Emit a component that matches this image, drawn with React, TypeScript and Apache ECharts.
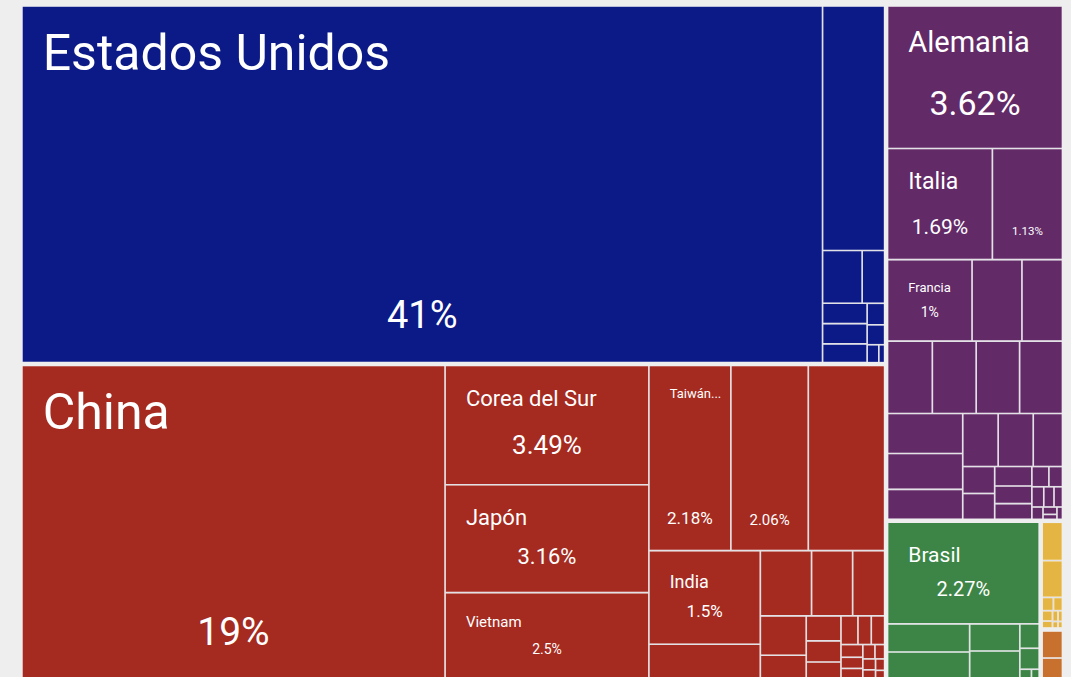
import React, { useEffect, useRef } from "react";
import * as echarts from "echarts";

// ---------- DATA ----------
const continentNames = ["América del Norte", "Asia", "Europa", "América del Sur", "África", "Oceanía"];

const northAmericaNames = ["Estados Unidos", "Canadá", "Guatemala", "Costa Rica", "Puerto Rico", "El Salvador", "República Dominicana", "Nicaragua", "Honduras", "Panamá", "Cuba"];
const northAmericaValues = [41, 2.18, 0.3, 0.17, 0.13, 0.13, 0.12, 0.054, 0.05, 0.03, 0.015];

const asiaNames = ["China", "Corea del Sur", "Japón", "Vietnam", "Taiwán", "Malasia", "Tailandia", "India", "Indonesia", "Singapur", "Filipinas", "Israel", "Hong Kong", "Arabia Saudita", "Pakistán", "Bangladés", "Turquía", "Emiratos Árabes Unidos", "Camboya", "Sri Lanka", "Catar", "Kuwait", "Irán", "Birmania", "Kazajistán", "Omán", "Jordania", "Baréin", "Macao"];
const asiaValues = [19, 3.49, 3.16, 2.5, 2.18, 2.06, 2.03, 1.5, 0.54, 0.48, 0.385, 0.3, 0.26, 0.15, 0.125, 0.105, 0.08, 0.07, 0.055, 0.055, 0.04, 0.035, 0.03, 0.025, 0.02, 0.02, 0.015, 0.015, 0.01];

const europeNames = ["Alemania", "Italia", "España", "Francia", "Países Bajos", "Reino Unido", "Suiza", "Irlanda", "Bélgica", "Austria", "Suecia", "Polonia", "República Checa", "Hungría", "Portugal", "Dinamarca", "Finlandia", "Rusia", "Eslovaquia", "Rumania", "Noruega", "Eslovenia", "Lituania", "Bulgaria", "Grecia", "Luxemburgo", "Estonia", "Croacia", "Ucrania", "Letonia"];
const europeValues = [3.62, 1.69, 1.13, 1.0, 0.59, 0.48, 0.47, 0.46, 0.455, 0.45, 0.436, 0.392, 0.327, 0.273, 0.27, 0.225, 0.125, 0.12, 0.105, 0.095, 0.085, 0.05, 0.04, 0.035, 0.03, 0.025, 0.02, 0.015, 0.01, 0.01];

const southAmericaNames = ["Brasil", "Argentina", "Chile", "Colombia", "Perú", "Ecuador", "Uruguay", "Bolivia", "Paraguay"];
const southAmericaValues = [2.27, 0.34, 0.315, 0.2, 0.2, 0.07, 0.06, 0.015, 0.01];

const africaNames = ["Sudáfrica", "Marruecos", "Egipto", "Nigeria", "Túnez", "Argelia", "Ghana", "Costa de Marfil", "Kenia", "Etiopía"];
const africaValues = [0.13, 0.125, 0.025, 0.02, 0.018, 0.012, 0.01, 0.008, 0.006, 0.005];

const oceaniaNames = ["Australia", "Nueva Zelanda"];
const oceaniaValues = [0.095, 0.07];

const groupNames = [northAmericaNames, asiaNames, europeNames, southAmericaNames, africaNames, oceaniaNames];
const groupValues = [northAmericaValues, asiaValues, europeValues, southAmericaValues, africaValues, oceaniaValues];

// Text shown as the name label (only these cells show a name)
const nameLabelText: Record<string, string> = {
  "Estados Unidos": "Estados Unidos",
  China: "China",
  "Corea del Sur": "Corea del Sur",
  "Japón": "Japón",
  Vietnam: "Vietnam",
  "Taiwán": "Taiwán...",
  India: "India",
  Alemania: "Alemania",
  Italia: "Italia",
  Francia: "Francia",
  Brasil: "Brasil",
};

// ---------- STYLES ----------
const BG = "#eeeeee";
const LINE = "#e2e2e6";
const FONT = "Roboto, 'Liberation Sans', sans-serif";
const continentColors = ["#0c1a87", "#a52a20", "#632a68", "#3d8547", "#e5b544", "#c8702e"];

const nameFontSize: Record<string, number> = {
  "Estados Unidos": 50, China: 50, "Corea del Sur": 22, "Japón": 22, Vietnam: 15, "Taiwán": 13,
  India: 18, Alemania: 29, Italia: 23, Francia: 13, Brasil: 21,
};
const shareFontSize: Record<string, number> = {
  "Estados Unidos": 38, China: 39, "Corea del Sur": 26, "Japón": 22, Vietnam: 14, "Taiwán": 17,
  Malasia: 15, India: 17, Alemania: 34, Italia: 21, "España": 11.5, Francia: 14, Brasil: 20,
};
const shareDistance: Record<string, number> = {
  "Estados Unidos": 27.8, China: 25.8, "Corea del Sur": 25.9, "Japón": 24.5, Vietnam: 20.8, "Taiwán": 23.3,
  Malasia: 22.6, India: 24.3, Alemania: 27.6, Italia: 21.7, "España": 22.2, Francia: 21.8, Brasil: 23.8,
};

const fmtShare = (v: number) => String(Number(v.toPrecision(3))) + "%";

function buildData(mode: "name" | "share") {
  return continentNames.map((c, ci) => ({
    name: c,
    itemStyle: mode === "name" ? { color: continentColors[ci] } : undefined,
    children: groupNames[ci].map((n, i) => {
      const item: any = { name: n, value: groupValues[ci][i] };
      if (mode === "name" && nameFontSize[n]) {
        item.label = { show: true, fontSize: nameFontSize[n] };
      }
      if (mode === "share" && shareFontSize[n]) {
        item.label = { show: true, fontSize: shareFontSize[n], distance: shareDistance[n] };
      }
      return item;
    }),
  }));
}

const box = { left: 22.7, top: 6.7, width: 1039, height: 670.5 };
const ROOT_GAP = 4.5;
const CELL_GAP = 1.6;

const common = {
  type: "treemap",
  ...box,
  roam: false,
  nodeClick: false,
  breadcrumb: { show: false },
  visibleMin: 1,
  animation: false,
  upperLabel: { show: false },
};

const option: any = {
  animation: false,
  backgroundColor: BG,
  tooltip: { show: false },
  series: [
    {
      ...common,
      data: buildData("name"),
      levels: [
        { itemStyle: { borderWidth: 0, gapWidth: ROOT_GAP, borderColor: BG } },
        { itemStyle: { borderWidth: 0, gapWidth: CELL_GAP, borderColor: LINE } },
        { itemStyle: { borderWidth: 0 } },
      ],
      label: {
        show: false,
        position: [20, 21],
        color: "#ffffff",
        fontFamily: FONT,
        fontWeight: "normal",
        padding: 0,
        distance: 0,
        formatter: (p: any) => nameLabelText[p.name] ?? p.name,
      },
      emphasis: { disabled: true },
    },
    {
      ...common,
      data: buildData("share"),
      silent: true,
      levels: [
        { itemStyle: { borderWidth: 0, gapWidth: ROOT_GAP, borderColor: "rgba(0,0,0,0)", color: "rgba(0,0,0,0)" } },
        { itemStyle: { borderWidth: 0, gapWidth: CELL_GAP, borderColor: "rgba(0,0,0,0)", color: "rgba(0,0,0,0)" } },
        { itemStyle: { borderWidth: 0, color: "rgba(0,0,0,0)" } },
      ],
      label: {
        show: false,
        position: "insideBottom",
        color: "#ffffff",
        fontFamily: FONT,
        fontWeight: "normal",
        padding: 0,
        formatter: (p: any) => fmtShare(p.value),
      },
      emphasis: { disabled: true },
    },
  ],
};

export default function App() {
  const ref = useRef<HTMLDivElement>(null);
  useEffect(() => {
    document.body.style.margin = "0";
    document.body.style.background = BG;
    const chart = echarts.init(ref.current!, null, { renderer: "svg" });
    chart.setOption(option);
    return () => chart.dispose();
  }, []);
  return <div ref={ref} style={{ width: 1071, height: 677, background: BG }} />;
}
